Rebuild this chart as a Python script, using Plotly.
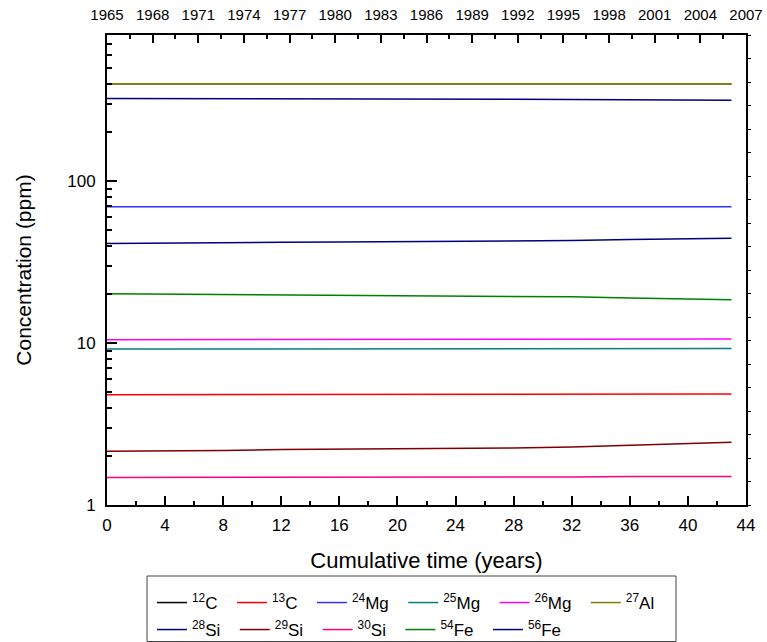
import plotly.graph_objects as go

# ---------------- data ----------------
time_years = [0, 4, 8, 12, 16, 20, 24, 28, 32, 36, 40, 43]

c12 = [400, 400, 400, 400, 400, 400, 400, 400, 400, 400, 400, 400]
c13 = [4.80, 4.80, 4.80, 4.81, 4.81, 4.82, 4.82, 4.83, 4.83, 4.84, 4.85, 4.85]
mg24 = [69.5, 69.5, 69.5, 69.5, 69.5, 69.5, 69.5, 69.5, 69.5, 69.5, 69.5, 69.5]
mg25 = [9.20, 9.20, 9.21, 9.21, 9.22, 9.22, 9.22, 9.23, 9.23, 9.24, 9.25, 9.25]
mg26 = [10.50, 10.50, 10.51, 10.52, 10.53, 10.54, 10.55, 10.56, 10.57, 10.58, 10.60, 10.60]
al27 = [400, 400, 400, 400, 400, 400, 400, 400, 400, 400, 400, 400]
si28 = [324, 324, 323, 323, 322, 322, 321, 321, 320, 319, 317, 316]
si29 = [2.15, 2.15, 2.17, 2.20, 2.21, 2.22, 2.23, 2.25, 2.28, 2.33, 2.40, 2.44]
si30 = [1.48, 1.48, 1.48, 1.48, 1.49, 1.49, 1.49, 1.49, 1.49, 1.50, 1.50, 1.50]
fe54 = [20.2, 20.1, 20.0, 19.8, 19.7, 19.6, 19.6, 19.5, 19.3, 19.0, 18.7, 18.5]
fe56 = [41.2, 41.3, 41.5, 41.9, 42.1, 42.3, 42.4, 42.6, 43.0, 43.6, 44.1, 44.4]

series_names = ["<sup>12</sup>C", "<sup>13</sup>C", "<sup>24</sup>Mg", "<sup>25</sup>Mg",
                "<sup>26</sup>Mg", "<sup>27</sup>Al", "<sup>28</sup>Si", "<sup>29</sup>Si",
                "<sup>30</sup>Si", "<sup>54</sup>Fe", "<sup>56</sup>Fe"]
series_values = [c12, c13, mg24, mg25, mg26, al27, si28, si29, si30, fe54, fe56]
series_colors = ["#000000", "#FF0000", "#3030FF", "#008080", "#FF00FF", "#808000",
                 "#000080", "#800000", "#FF0080", "#008000", "#000080"]

year_ticks = list(range(1965, 2008, 3))
bottom_ticks = list(range(0, 45, 4))
y_major = [1, 10, 100]

FONT = "Liberation Sans, Arial, sans-serif"
PAD = "\u00a0\u00a0"

fig = go.Figure()
for i, (name, vals, col) in enumerate(zip(series_names, series_values, series_colors)):
    fig.add_trace(go.Scatter(
        x=time_years, y=vals, mode="lines", name=name + PAD,
        line=dict(color=col, width=1.5),
        legend="legend" if i < 6 else "legend2",
        hoverinfo="skip",
    ))

# helper traces so the top and right axes render
fig.add_trace(go.Scatter(x=[year_ticks[0], year_ticks[-1]], y=[1, 1], xaxis="x2", yaxis="y",
                         mode="markers", marker=dict(opacity=0), showlegend=False, hoverinfo="skip"))
fig.add_trace(go.Scatter(x=[0, 44], y=[0, 20], xaxis="x", yaxis="y2",
                         mode="markers", marker=dict(opacity=0), showlegend=False, hoverinfo="skip"))

W, H = 767, 642
L, R, T, B = 107, 21, 35, 137
pw, ph = W - L - R, H - T - B

def px_x(p):
    return (p - L) / pw

def px_y(p):
    return (H - B - p) / ph

minor_log = [m * d for d in (1, 10, 100) for m in range(2, 10) if m * d <= 800]

fig.update_layout(
    width=W, height=H,
    margin=dict(l=L, r=R, t=T, b=B, pad=0, autoexpand=False),
    paper_bgcolor="white", plot_bgcolor="white",
    font=dict(family=FONT, size=17, color="black"),
    showlegend=True,
    xaxis=dict(
        range=[0, 44], tickvals=bottom_ticks, ticks="inside", ticklen=9, tickwidth=1.5,
        tickcolor="black", showline=True, linewidth=2, linecolor="black", mirror=False,
        showgrid=False, zeroline=False, tickfont=dict(size=17), ticklabelstandoff=4,
        automargin=False,
        minor=dict(dtick=2, ticks="inside", ticklen=4, tickwidth=1.5, tickcolor="black", showgrid=False),
        title=dict(text="Cumulative time (years)", font=dict(size=22), standoff=18),
    ),
    xaxis2=dict(
        overlaying="x", side="top", anchor="y", range=[1965, 2007], tickvals=year_ticks,
        ticks="inside", ticklen=8, tickwidth=1.5, tickcolor="black", showline=True,
        linewidth=1.5, linecolor="black", showgrid=False, zeroline=False,
        tickfont=dict(size=15), ticklabelstandoff=7, automargin=False,
        minor=dict(dtick=1.5, tick0=1965, ticks="inside", ticklen=4, tickwidth=1.5,
                   tickcolor="black", showgrid=False),
    ),
    yaxis=dict(
        type="log", range=[0, 2.90309], tickvals=y_major, ticktext=[str(v) for v in y_major],
        ticks="inside", ticklen=10, tickwidth=1.5, tickcolor="black", showline=True,
        linewidth=2, linecolor="black", showgrid=False, zeroline=False,
        tickfont=dict(size=17), ticklabelstandoff=6, automargin=False,
        minor=dict(tickvals=minor_log, ticks="inside", ticklen=5, tickwidth=1.5,
                   tickcolor="black", showgrid=False),
        title=dict(text="Concentration (ppm)", font=dict(size=21), standoff=30),
    ),
    yaxis2=dict(
        overlaying="y", side="right", anchor="x", range=[0, 20], dtick=1,
        ticks="outside", ticklen=3, tickwidth=1, tickcolor="black", showticklabels=False,
        showline=True, linewidth=2, linecolor="black", showgrid=False, zeroline=False,
        automargin=False,
    ),
    legend=dict(
        orientation="h", x=px_x(152), y=px_y(585), xanchor="left", yanchor="top",
        bgcolor="rgba(0,0,0,0)", borderwidth=0, font=dict(size=17),
        tracegroupgap=0, itemclick=False,
    ),
    legend2=dict(
        orientation="h", x=px_x(152), y=px_y(612), xanchor="left", yanchor="top",
        bgcolor="rgba(0,0,0,0)", borderwidth=0, font=dict(size=17),
        tracegroupgap=0, itemclick=False,
    ),
    shapes=[dict(type="rect", xref="paper", yref="paper",
                 x0=px_x(147), x1=px_x(676), y0=px_y(576), y1=px_y(641.5),
                 line=dict(color="#444444", width=1), fillcolor="rgba(0,0,0,0)", layer="above")],
)

fig.write_html("out.html")
